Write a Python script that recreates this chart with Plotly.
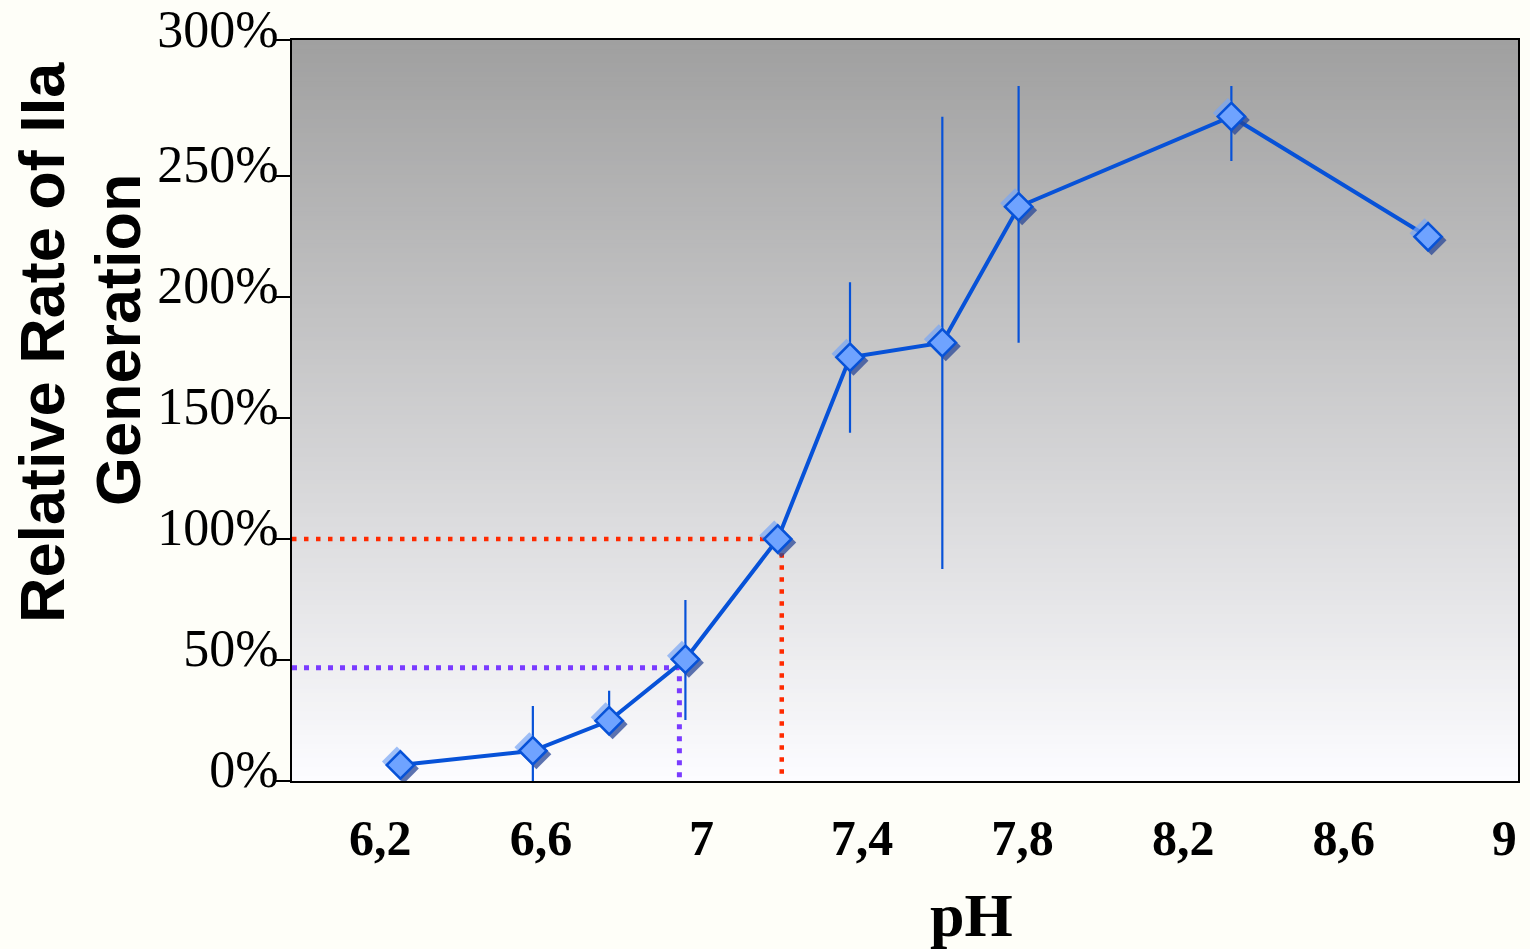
import plotly.graph_objects as go

# ---------------- data ----------------
ph = [6.25, 6.58, 6.77, 6.96, 7.19, 7.37, 7.60, 7.79, 8.32, 8.81]
rate = [6.6, 12.5, 24.9, 50.3, 100.0, 175.1, 181.1, 237.3, 274.6, 224.9]
err_plus = [0, 18.5, 12.4, 24.5, 0, 31.0, 93.4, 49.9, 12.6, 0]
err_minus = [0, 12.5, 0, 25.1, 0, 31.2, 93.5, 56.2, 18.4, 0]

x_tick_vals = [6.2, 6.6, 7.0, 7.4, 7.8, 8.2, 8.6, 9.0]
x_tick_text = ["6,2", "6,6", "7", "7,4", "7,8", "8,2", "8,6", "9"]
y_tick_vals = [0, 50, 100, 150, 200, 250, 306]
y_tick_text = ["0%", "50%", "100%", "150%", "200%", "250%", "300%"]

ref_red_ph, ref_red_rate = 7.2, 100.0
ref_purple_ph, ref_purple_rate = 6.945, 46.8

X_RANGE = [5.98, 9.034]
Y_RANGE = [0, 306.2]

# ---------------- layout geometry ----------------
W, H = 1530, 949
ML, MR, MT, MB = 292, 12, 40, 168
plot_w = W - ML - MR
plot_h = H - MT - MB
px_per_x = plot_w / (X_RANGE[1] - X_RANGE[0])
px_per_y = plot_h / (Y_RANGE[1] - Y_RANGE[0])

BG = "#FEFEF8"
LINE_BLUE = "#0752D8"
FILL_BLUE = "#6FA3FF"
RED = "#FF2A00"
PURPLE = "#7A3BFF"

fig = go.Figure()

# reference dotted lines
fig.add_trace(go.Scatter(
    x=[X_RANGE[0], ref_red_ph, ref_red_ph], y=[ref_red_rate, ref_red_rate, 0],
    mode="lines", line=dict(color=RED, width=4.5, dash="4.5px,7.5px"),
    hoverinfo="skip", showlegend=False))
fig.add_trace(go.Scatter(
    x=[X_RANGE[0], ref_purple_ph, ref_purple_ph], y=[ref_purple_rate, ref_purple_rate, 0],
    mode="lines", line=dict(color=PURPLE, width=5, dash="5px,7px"),
    hoverinfo="skip", showlegend=False))

# main line with error bars
fig.add_trace(go.Scatter(
    x=ph, y=rate, mode="lines",
    line=dict(color=LINE_BLUE, width=4),
    error_y=dict(type="data", array=err_plus, arrayminus=err_minus,
                 color=LINE_BLUE, thickness=2.2, width=0),
    showlegend=False))

# shadow markers (on overlaid axes shifted by a few pixels)
fig.add_trace(go.Scatter(
    x=ph, y=rate, mode="markers", xaxis="x2", yaxis="y2",
    marker=dict(symbol="diamond", size=23, color="rgba(40,70,150,0.75)",
                line=dict(width=0)),
    hoverinfo="skip", showlegend=False))
fig.add_trace(go.Scatter(
    x=ph, y=rate, mode="markers", xaxis="x3", yaxis="y3",
    marker=dict(symbol="diamond", size=23, color="rgba(120,165,245,0.7)",
                line=dict(width=0)),
    hoverinfo="skip", showlegend=False))
# main markers
fig.add_trace(go.Scatter(
    x=ph, y=rate, mode="markers", xaxis="x4", yaxis="y4",
    marker=dict(symbol="diamond", size=21, color=FILL_BLUE,
                line=dict(width=2.5, color=LINE_BLUE)),
    showlegend=False))

# gradient background
shapes = []
n = 160
top = (160, 160, 160)
bot = (252, 252, 255)
for i in range(n):
    t = i / (n - 1)
    c = tuple(round(bot[k] + (top[k] - bot[k]) * t) for k in range(3))
    shapes.append(dict(type="rect", xref="x domain", yref="y domain",
                       x0=0, x1=1, y0=i / n, y1=(i + 1.6) / n if i < n - 1 else 1,
                       fillcolor="rgb(%d,%d,%d)" % c, line=dict(width=0),
                       layer="below"))

dx = 3.5 / px_per_x
dy = 3.5 / px_per_y
hidden = dict(visible=False, showgrid=False, zeroline=False)

title_font = dict(family="Liberation Sans", size=63, color="black")

fig.update_layout(
    width=W, height=H,
    margin=dict(l=ML, r=MR, t=MT, b=MB, pad=0),
    paper_bgcolor=BG,
    plot_bgcolor=BG,
    shapes=shapes,
    xaxis=dict(range=X_RANGE, tickvals=x_tick_vals, ticktext=x_tick_text,
               showgrid=False, zeroline=False, ticks="", automargin=False,
               showline=True, linecolor="black", linewidth=2, mirror=True,
               tickfont=dict(family="Liberation Serif", size=50, color="black",
                             weight="bold"),
               ticklabelstandoff=12),
    yaxis=dict(range=Y_RANGE, tickvals=y_tick_vals, ticktext=y_tick_text,
               showgrid=False, zeroline=False, ticks="outside", ticklen=14,
               tickwidth=2, tickcolor="black", automargin=False,
               showline=True, linecolor="black", linewidth=2, mirror=True,
               tickfont=dict(family="Liberation Serif", size=52, color="black"),
               ticklabelshift=-12, ticklabelstandoff=-13,
               ticklabeloverflow="allow"),
    xaxis2=dict(range=[X_RANGE[0] - dx, X_RANGE[1] - dx], overlaying="x", **hidden),
    yaxis2=dict(range=[Y_RANGE[0] + dy, Y_RANGE[1] + dy], overlaying="y", **hidden),
    xaxis3=dict(range=[X_RANGE[0] + dx, X_RANGE[1] + dx], overlaying="x", **hidden),
    yaxis3=dict(range=[Y_RANGE[0] - dy, Y_RANGE[1] - dy], overlaying="y", **hidden),
    xaxis4=dict(range=X_RANGE, overlaying="x", **hidden),
    yaxis4=dict(range=Y_RANGE, overlaying="y", **hidden),
    annotations=[
        dict(text="<b>pH</b>", xref="paper", yref="paper",
             x=(971 - ML) / plot_w, y=(H - MB - 915) / plot_h,
             xanchor="center", yanchor="middle", showarrow=False,
             font=dict(family="Liberation Serif", size=62, color="black")),
        dict(text="<b>Relative Rate of IIa</b>", xref="paper", yref="paper",
             x=(42 - ML) / plot_w, y=(H - MB - 342) / plot_h,
             xanchor="center", yanchor="middle", showarrow=False, textangle=-90,
             font=title_font),
        dict(text="<b>Generation</b>", xref="paper", yref="paper",
             x=(118 - ML) / plot_w, y=(H - MB - 340) / plot_h,
             xanchor="center", yanchor="middle", showarrow=False, textangle=-90,
             font=title_font),
    ],
)

fig.write_html(
    "out.html",
    config={"displayModeBar": False},
    post_script=("document.body.style.margin='0';"
                 "document.body.style.background='%s';" % BG),
)
